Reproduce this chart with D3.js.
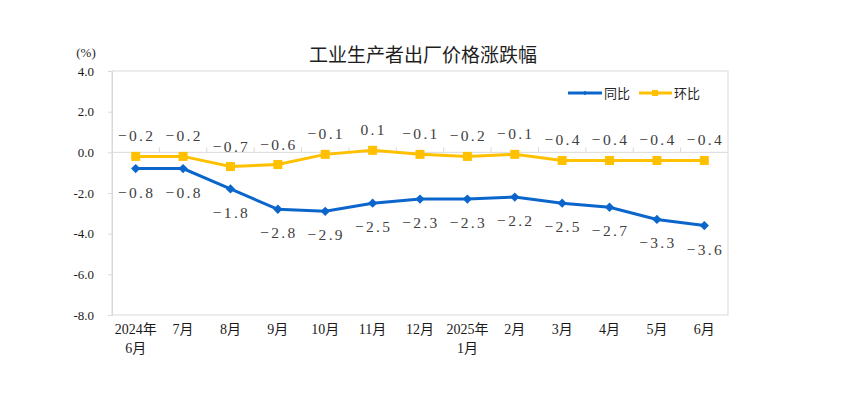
<!DOCTYPE html>
<html><head><meta charset="utf-8">
<script src="https://cdn.jsdelivr.net/npm/d3@7"></script>
<style>body{margin:0;background:#fff;}svg{display:block;}</style>
</head><body>
<svg id="c" width="844" height="398"></svg>
<script>
const months = ["2024年\n6月","7月","8月","9月","10月","11月","12月","2025年\n1月","2月","3月","4月","5月","6月"];
const yoy = [-0.8,-0.8,-1.8,-2.8,-2.9,-2.5,-2.3,-2.3,-2.2,-2.5,-2.7,-3.3,-3.6];
const mom = [-0.2,-0.2,-0.7,-0.6,-0.1,0.1,-0.1,-0.2,-0.1,-0.4,-0.4,-0.4,-0.4];
const yTicks = [4,2,0,-2,-4,-6,-8];
const seriesNames = ["同比","环比"];

const svg = d3.select("#c");
const L=112,R=728,T=71,B=315;
const x = d3.scaleBand().domain(d3.range(months.length)).range([L,R]);
const y = d3.scaleLinear().domain([-8,4]).range([B,T]);
const blue="#0B66CC", yellow="#FFC000", grid="#d9d9d9";
const serif="'Liberation Serif','Times New Roman','Noto Sans CJK SC',serif";

svg.append("text").attr("x",423).attr("y",62).attr("text-anchor","middle")
  .attr("font-family","'Noto Sans CJK SC',sans-serif").attr("font-size",19).attr("fill","#1f1f1f")
  .text("工业生产者出厂价格涨跌幅");
svg.append("text").attr("x",86).attr("y",57).attr("text-anchor","middle")
  .attr("font-family",serif).attr("font-size",13).attr("fill","#262626").text("(%)");

// plot border
svg.append("rect").attr("x",L).attr("y",T).attr("width",R-L).attr("height",B-T)
  .attr("fill","none").attr("stroke",grid).attr("stroke-width",1);

// y axis
const yAx = svg.append("g").attr("transform",`translate(${L},0)`)
  .call(d3.axisLeft(y).tickValues(yTicks).tickSize(4).tickPadding(14).tickFormat(d3.format(".1f")));
yAx.select(".domain").attr("stroke",grid);
yAx.selectAll(".tick line").attr("stroke",grid);
yAx.selectAll("text").attr("font-family",serif).attr("font-size",13).attr("fill","#1a1a1a")
  .text(d=>d3.format(".1f")(d).replace("−","-"));

// zero line with category ticks
svg.append("line").attr("x1",L).attr("x2",R).attr("y1",y(0)).attr("y2",y(0)).attr("stroke",grid);
svg.selectAll(".ct").data(d3.range(1,months.length)).join("line")
  .attr("x1",d=>x(d)).attr("x2",d=>x(d)).attr("y1",y(0)).attr("y2",y(0)-5).attr("stroke",grid);

// x labels
const xl = svg.selectAll(".xl").data(months).join("text")
  .attr("text-anchor","middle").attr("font-family",serif).attr("font-size",14).attr("fill","#1a1a1a");
xl.each(function(d,i){
  const parts=d.split("\n");
  d3.select(this).selectAll("tspan").data(parts).join("tspan")
    .attr("x",x(i)+x.bandwidth()/2).attr("y",(p,j)=>334+j*19).text(p=>p);
});

const line = d3.line().x((d,i)=>x(i)+x.bandwidth()/2).y(d=>y(d));
const fmt = d3.format(".1f");

// mom series
svg.append("path").datum(mom).attr("d",line).attr("fill","none").attr("stroke",yellow).attr("stroke-width",3);
svg.selectAll(".ms").data(mom).join("rect")
  .attr("x",(d,i)=>x(i)+x.bandwidth()/2-4.5).attr("y",d=>y(d)-4.5).attr("width",9).attr("height",9).attr("fill",yellow);
// yoy series
svg.append("path").datum(yoy).attr("d",line).attr("fill","none").attr("stroke",blue).attr("stroke-width",3);
svg.selectAll(".ys").data(yoy).join("path")
  .attr("transform",(d,i)=>`translate(${x(i)+x.bandwidth()/2},${y(d)})`)
  .attr("d",d3.symbol(d3.symbolDiamond2,55)).attr("fill",blue);

// labels
const lab = (data,dy)=>svg.append("g").selectAll("text").data(data).join("text")
  .attr("x",(d,i)=>x(i)+x.bandwidth()/2+1).attr("y",d=>y(d)+dy).attr("text-anchor","middle")
  .attr("font-family",serif).attr("font-size",15.5).attr("letter-spacing",2.3).attr("fill","#404040")
  .text(d=>fmt(d));
lab(mom,-15);
lab(yoy,29);

// legend
const lg = svg.append("g");
lg.append("line").attr("x1",568).attr("x2",602).attr("y1",93).attr("y2",93).attr("stroke",blue).attr("stroke-width",3);
lg.append("path").attr("transform","translate(585,93)").attr("d",d3.symbol(d3.symbolDiamond2,14)).attr("fill",blue);
lg.append("text").attr("x",604).attr("y",98).attr("font-family","'Noto Sans CJK SC',sans-serif").attr("font-size",13).attr("fill","#262626").text(seriesNames[0]);
lg.append("line").attr("x1",639).attr("x2",672).attr("y1",93).attr("y2",93).attr("stroke",yellow).attr("stroke-width",3);
lg.append("rect").attr("x",652).attr("y",90).attr("width",6).attr("height",6).attr("fill",yellow);
lg.append("text").attr("x",674).attr("y",98).attr("font-family","'Noto Sans CJK SC',sans-serif").attr("font-size",13).attr("fill","#262626").text(seriesNames[1]);
</script>
</body></html>
